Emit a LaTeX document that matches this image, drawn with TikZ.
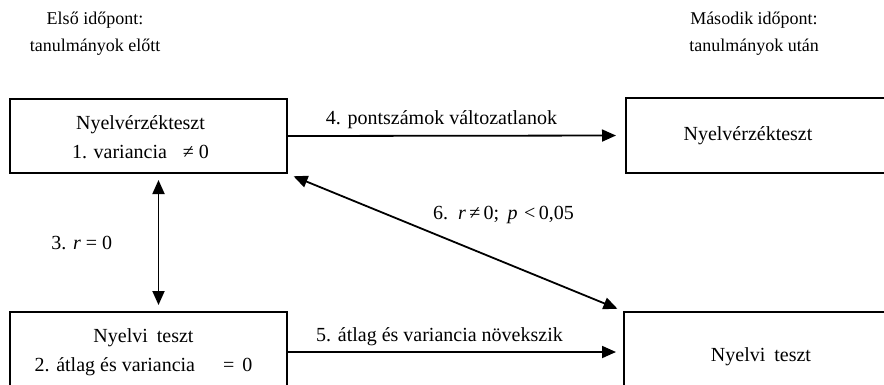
\documentclass[tikz,border=0pt]{standalone}
\usepackage{fontspec}
\setmainfont{Liberation Serif}
\usetikzlibrary{arrows.meta, positioning}

\begin{document}
\begin{tikzpicture}[x=1pt, y=-1pt,
    box/.style={draw, line width=2pt, rectangle, inner sep=0pt},
    boxtext/.style={align=center, font=\fontsize{20}{29}\selectfont},
    head/.style={align=center, font=\fontsize{18}{27}\selectfont},
    conn/.style={line width=1.8pt, -{Triangle[length=14pt, width=12pt]}},
    biconn/.style={line width=1.8pt,
                   {Triangle[length=14pt, width=12pt]}-{Triangle[length=14pt, width=12pt]}},
    lbl/.style={font=\fontsize{20}{24}\selectfont}
]
    \useasboundingbox (0,0) rectangle (884,384);
    \clip (0,0) rectangle (884,384);

    % --- Headers ---
    \node[head] (headpre)  at (95, 34)  {Első időpont:\\tanulmányok előtt};
    \node[head] (headpost) at (754, 34) {Második időpont:\\tanulmányok után};

    % --- Boxes ---
    \node[box, minimum width=277pt, minimum height=74pt,
          label={[boxtext, xshift=-8pt, yshift=-1pt]center:Nyelvérzékteszt\\1. variancia\hspace{0.8em}≠ 0}]
          (pre1) at (148.5, 136) {};
    \node[box, minimum width=280pt, minimum height=75pt,
          label={[boxtext, xshift=-18pt]center:Nyelvérzékteszt}]
          (post1) at (766, 135.5) {};
    \node[box, minimum width=277pt, minimum height=80pt,
          label={[boxtext, xshift=-5pt]center:Nyelvi\hspace{0.2em} teszt\\2. átlag és variancia\hspace{1.4em}=\hspace{0.4em}0}]
          (pre2) at (148.5, 352) {};
    \node[box, minimum width=280pt, minimum height=90pt,
          label={[boxtext, xshift=-3pt]center:Nyelvi\hspace{0.2em} teszt}]
          (post2) at (764, 357) {};

    % --- Connectors ---
    \draw[conn, shorten >=9pt] (pre1.east) -- (post1.west)
        node[lbl, midway, above=3pt, xshift=-15pt] {4. pontszámok változatlanok};

    \draw[conn, shorten >=7pt] (pre2.east) -- (pre2.east -| post2.west)
        node[lbl, midway, above=2pt, xshift=-16pt] {5. átlag és variancia növekszik};

    \draw[biconn, shorten <=6pt, shorten >=6pt]
        ([xshift=10pt]pre1.south) -- ([xshift=10pt]pre2.north)
        node[lbl, midway, left=42pt] {3. \textit{r} = 0};

    \draw[biconn, shorten <=6pt, shorten >=6pt] (pre1.south east) -- (post2.north west)
        node[lbl, midway, xshift=48pt, yshift=28pt]
        {6.\, \textit{r}\,≠\,0;\, \textit{p}\,\,<\,0,05};
\end{tikzpicture}
\end{document}
